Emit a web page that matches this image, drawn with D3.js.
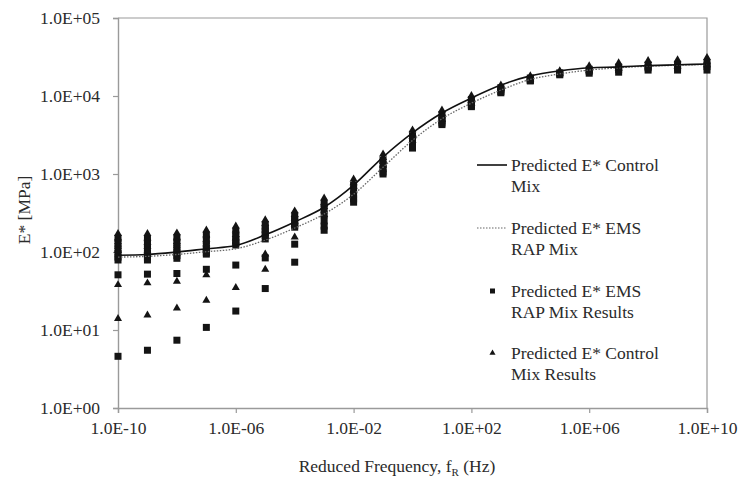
<!DOCTYPE html>
<html>
<head>
<meta charset="utf-8">
<script src="https://cdn.jsdelivr.net/npm/d3@7"></script>
<style>
  html, body { margin: 0; padding: 0; background: #fff; }
  svg { display: block; }
  text { font-family: "Liberation Serif", "Times New Roman", serif; fill: #2b2b2b; }
</style>
</head>
<body>
<svg id="chart" width="741" height="479"></svg>
<script>
// Reduced frequency (Hz) at each evaluation point, one per decade
const freqs = [1e-10, 1e-9, 1e-8, 1e-7, 1e-6, 1e-5, 1e-4, 1e-3, 1e-2, 1e-1, 1e0,
               1e1, 1e2, 1e3, 1e4, 1e5, 1e6, 1e7, 1e8, 1e9, 1e10];

// Master curves, E* [MPa]
const controlCurve = [91, 93, 100, 110, 121, 166, 243, 375, 720, 1650, 3370,
                      6050, 9400, 13800, 18100, 21000, 23000, 23600, 24500, 25100, 25700];
const emsCurve = [86, 88, 93, 101, 110, 142, 203, 307, 550, 1220, 2700,
                  5100, 8100, 11900, 16300, 19200, 21500, 23000, 24100, 24800, 25400];

// Individual results at each frequency, E* [MPa]
const emsResults = [
  [150, 128, 110, 96, 86, 79, 51, 4.6],
  [148, 127, 110, 96, 86, 79, 52, 5.5],
  [152, 130, 113, 99, 90, 83, 53, 7.4],
  [165, 140, 122, 107, 98, 94, 60, 10.8],
  [185, 160, 145, 132, 123, 68, 17.5],
  [225, 200, 180, 163, 147, 84, 34],
  [290, 262, 238, 220, 208, 126, 74],
  [420, 360, 300, 250, 215, 190],
  [720, 620, 540, 480, 435],
  [1500, 1320, 1170, 1060, 1000],
  [3100, 2750, 2450, 2250, 2150],
  [5800, 5200, 4800, 4500, 4300],
  [9000, 8300, 7800, 7500, 7300],
  [12800, 12000, 11400, 11000],
  [17000, 16300, 15800, 15600],
  [19800, 19200, 18700],
  [22000, 20800, 19600],
  [23500, 21800, 20200],
  [25000, 23000, 21500],
  [25500, 23300, 21500],
  [26500, 23800, 21500]
];
const controlResults = [
  [172, 152, 135, 118, 104, 38, 14],
  [172, 150, 133, 117, 103, 40, 15.5],
  [175, 154, 136, 120, 106, 42, 19],
  [190, 165, 145, 127, 112, 51, 24],
  [215, 190, 168, 150, 135, 35],
  [258, 232, 210, 190, 172, 94, 60],
  [335, 300, 270, 245, 225, 155],
  [490, 430, 380, 335, 300],
  [860, 770, 690, 620],
  [1800, 1620, 1450, 1300],
  [3660, 3300, 3000, 2700],
  [6600, 6000, 5500, 5000],
  [10100, 9400, 8700, 8100],
  [13800, 13000, 12300],
  [18100, 17300, 16600],
  [21000, 20300, 19500],
  [24300, 22500, 21000],
  [26600, 24500, 22500],
  [28300, 25800, 23500],
  [29000, 26500, 24000],
  [31000, 28000, 25000]
];

// Axis ticks
const xTicks = [1e-10, 1e-6, 1e-2, 1e2, 1e6, 1e10];
const xTickLabels = ["1.0E-10", "1.0E-06", "1.0E-02", "1.0E+02", "1.0E+06", "1.0E+10"];
const yTicks = [1, 10, 100, 1e3, 1e4, 1e5];
const yTickLabels = ["1.0E+00", "1.0E+01", "1.0E+02", "1.0E+03", "1.0E+04", "1.0E+05"];

const legendLabels = [
  ["Predicted E* Control", "Mix"],
  ["Predicted E* EMS", "RAP Mix"],
  ["Predicted E* EMS", "RAP Mix Results"],
  ["Predicted E* Control", "Mix Results"]
];

const svg = d3.select("#chart");
const plotLeft = 118, plotRight = 707, plotTop = 18, plotBottom = 408;
const fontSize = 17.5;

const x = d3.scaleLog().domain([1e-10, 1e10]).range([plotLeft, plotRight]);
const y = d3.scaleLog().domain([1, 1e5]).range([plotBottom, plotTop]);

const axisColor = "#9a9a9a";

// Frame: top and right borders
svg.append("path")
  .attr("d", `M${plotLeft},${plotTop}H${plotRight}V${plotBottom}`)
  .attr("fill", "none").attr("stroke", axisColor).attr("stroke-width", 1.2);

// Axes
const xAxis = svg.append("g").attr("transform", `translate(0,${plotBottom})`)
  .call(d3.axisBottom(x).tickValues(xTicks).tickSize(5)
        .tickFormat((d, i) => xTickLabels[i]));
const yAxis = svg.append("g").attr("transform", `translate(${plotLeft},0)`)
  .call(d3.axisLeft(y).tickValues(yTicks).tickSize(5)
        .tickFormat((d, i) => yTickLabels[i]));
[xAxis, yAxis].forEach(g => {
  g.select(".domain").attr("stroke", axisColor).attr("stroke-width", 1.4);
  g.selectAll(".tick line").attr("stroke", axisColor).attr("stroke-width", 1.2);
  g.selectAll(".tick text").attr("font-size", fontSize)
    .attr("font-family", "Liberation Serif, serif").attr("fill", "#2b2b2b");
});
xAxis.selectAll(".tick text").attr("dy", "0.71em").attr("y", 14);
yAxis.selectAll(".tick text").attr("x", -18);

// Result markers
const sq = 7;
const triPath = d3.symbol().type(d3.symbolTriangle).size(28);
const markers = svg.append("g");
freqs.forEach((f, i) => {
  emsResults[i].forEach(v => {
    markers.append("rect")
      .attr("x", x(f) - sq / 2).attr("y", y(v) - sq / 2)
      .attr("width", sq).attr("height", sq).attr("fill", "#141414");
  });
  controlResults[i].forEach(v => {
    markers.append("path").attr("d", triPath)
      .attr("transform", `translate(${x(f)},${y(v)})`).attr("fill", "#141414");
  });
});

// Master curves
const line = d3.line().x(d => x(d[0])).y(d => y(d[1])).curve(d3.curveMonotoneX);
svg.append("path").datum(freqs.map((f, i) => [f, emsCurve[i]]))
  .attr("d", line).attr("fill", "none").attr("stroke", "#666")
  .attr("stroke-width", 1.3).attr("stroke-dasharray", "1.5,1.5");
svg.append("path").datum(freqs.map((f, i) => [f, controlCurve[i]]))
  .attr("d", line).attr("fill", "none").attr("stroke", "#111")
  .attr("stroke-width", 1.6);

// Axis titles
svg.append("text")
  .attr("transform", "translate(30,210) rotate(-90)")
  .attr("text-anchor", "middle").attr("font-size", fontSize)
  .text("E* [MPa]");
const xt = svg.append("text").attr("x", 397).attr("y", 472)
  .attr("text-anchor", "middle").attr("font-size", fontSize);
xt.append("tspan").text("Reduced Frequency, f");
xt.append("tspan").attr("font-size", 11).attr("dy", 4).text("R");
xt.append("tspan").attr("dy", -4).text(" (Hz)");

// Legend
const legY = [165, 228, 291, 353];
const lg = svg.append("g");
legendLabels.forEach((lines, i) => {
  const cy = legY[i];
  if (i === 0) {
    lg.append("line").attr("x1", 477).attr("x2", 507).attr("y1", cy).attr("y2", cy)
      .attr("stroke", "#111").attr("stroke-width", 1.6);
  } else if (i === 1) {
    lg.append("line").attr("x1", 477).attr("x2", 507).attr("y1", cy).attr("y2", cy)
      .attr("stroke", "#666").attr("stroke-width", 1.2).attr("stroke-dasharray", "1.5,1.5");
  } else if (i === 2) {
    lg.append("rect").attr("x", 490).attr("y", cy - 2.5).attr("width", 5).attr("height", 5)
      .attr("fill", "#141414");
  } else {
    lg.append("path").attr("d", d3.symbol().type(d3.symbolTriangle).size(16))
      .attr("transform", `translate(492.5,${cy})`).attr("fill", "#141414");
  }
  lines.forEach((t, j) => {
    lg.append("text").attr("x", 511).attr("y", cy + 6 + j * 21)
      .attr("font-size", fontSize).text(t);
  });
});
</script>
</body>
</html>
